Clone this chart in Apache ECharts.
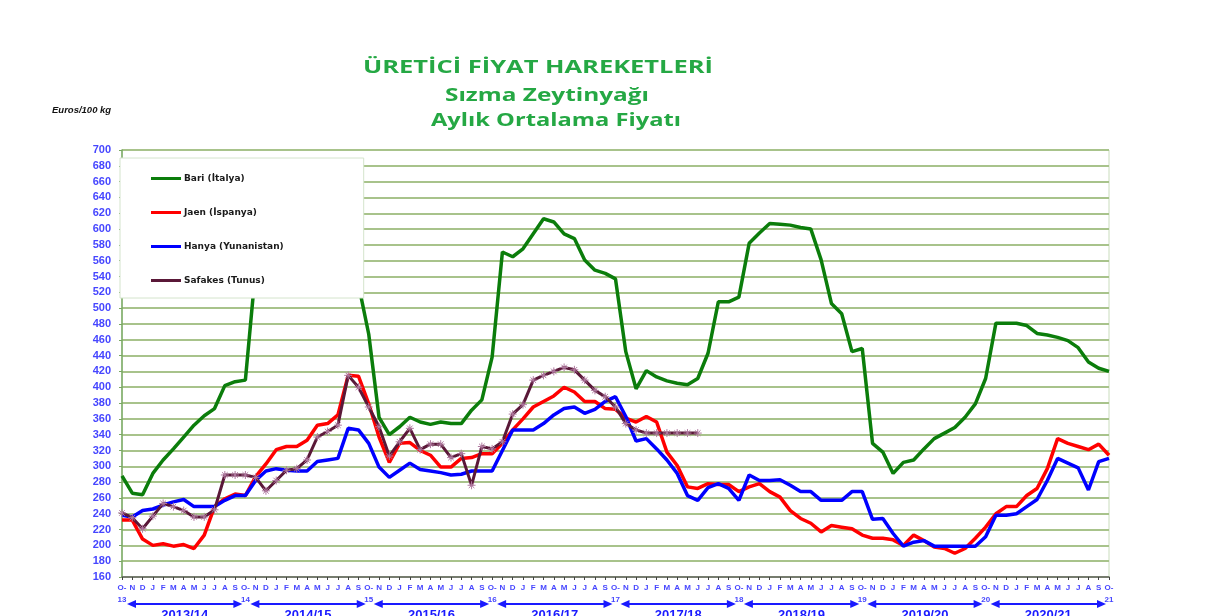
<!DOCTYPE html>
<html>
<head>
<meta charset="utf-8">
<script src="https://cdn.jsdelivr.net/npm/echarts@6/dist/echarts.min.js"></script>
<style>
html,body{margin:0;padding:0;background:#fff;}
#chart{width:1217px;height:616px;}
</style>
</head>
<body>
<div id="chart"></div>
<script>
// ---- Data ----
const monthLetters = ['O','N','D','J','F','M','A','M','J','J','A','S'];
const yearLabels = ['13','14','15','16','17','18','19','20','21'];
const seasonLabels = ['2013/14','2014/15','2015/16','2016/17','2017/18','2018/19','2019/20','2020/21'];
const seriesNames = ['Bari (İtalya)','Jaen (İspanya)','Hanya (Yunanistan)','Safakes (Tunus)'];
const titleLines = ['ÜRETİCİ FİYAT HAREKETLERİ','Sızma Zeytinyağı','Aylık Ortalama Fiyatı'];
const unitLabel = 'Euros/100 kg';

const bari = [288,266,264,291,308,322,337,352,364,373,402,407,409,
  550,600,625,640,650,655,652,640,615,580,530,
  467,362,340,350,362,356,353,356,354,354,371,384,438,
  571,565,575,594,613,609,594,588,561,548,544,537,
  445,398,421,413,408,405,403,411,443,508,508,514,
  582,595,607,606,605,602,600,561,506,493,445,449,
  329,318,291,305,308,322,335,342,349,362,379,411,
  481,481,481,478,468,466,463,459,450,432,424,420];
const jaen = [232,232,208,200,202,199,201,196,213,249,259,265,263,
  287,303,321,325,325,333,352,354,365,415,414,379,
  337,305,329,330,320,314,299,299,310,311,316,316,
  329,346,360,375,382,389,400,394,382,382,373,372,
  361,356,363,356,318,301,274,272,278,277,277,268,
  274,278,268,261,244,234,228,217,225,223,221,213,
  209,209,207,200,213,206,198,196,190,196,209,223,
  240,249,249,263,272,297,335,329,325,321,328,314];
const hanya = [238,236,244,246,251,255,258,249,249,249,257,263,263,
  282,294,297,295,294,294,306,308,310,348,346,329,
  299,286,295,304,296,294,292,289,290,294,294,294,
  320,346,346,346,354,365,373,375,367,372,382,388,
  363,332,335,322,308,291,263,257,273,278,272,257,
  289,282,282,283,276,268,268,257,257,257,268,268,
  233,234,215,199,204,206,199,199,199,199,199,211,
  238,238,240,249,258,282,310,304,298,270,306,310];
const safakes = [241,235,221,237,253,249,244,236,236,245,289,289,289,
  286,269,282,295,297,308,337,344,352,415,400,375,
  350,313,331,348,321,328,328,311,316,276,325,322,
  331,366,378,409,415,420,425,422,409,396,388,375,
  354,346,342,342,342,342,342,342];

// categories built from month letters and year labels
const categories = [];
for (let y = 0; y < yearLabels.length; y++) {
  for (let m = 0; m < monthLetters.length; m++) {
    if (y === yearLabels.length - 1 && m > 0) break;
    categories.push(m === 0 ? 'O-\n' + yearLabels[y] : monthLetters[m]);
  }
}

const chart = echarts.init(document.getElementById('chart'));
const titleGreen = '#25a844';
const axisBlue = '#4646ff';
const maroon = '#5a1838';

const option = {
  animation: false,
  backgroundColor: '#ffffff',
  legend: {
    orient: 'vertical',
    left: 120, top: 158,
    padding: [16, 80, 13, 31],
    itemGap: 25,
    itemWidth: 30, itemHeight: 3,
    icon: 'rect',
    backgroundColor: '#ffffff',
    borderColor: '#d4e4cc', borderWidth: 1,
    textStyle: {color: '#1a1a1a', fontSize: 9, fontWeight: 'bold', fontFamily: 'DejaVu Sans', padding: [0,0,0,-2]},
    data: [seriesNames[0], seriesNames[1], seriesNames[2],
           {name: seriesNames[3], itemStyle: {color: maroon, borderWidth: 0}}]
  },
  grid: {left: 122, right: 108, top: 150, bottom: 39, show: true, borderColor: '#c9dcbc', borderWidth: 1},
  xAxis: {
    type: 'category',
    data: categories,
    boundaryGap: false,
    axisLine: {lineStyle: {color: '#666', width: 1.5}},
    axisTick: {show: true, interval: 0, length: 3, lineStyle: {color: '#444'}},
    axisLabel: {interval: 0, color: axisBlue, fontSize: 8, fontWeight: 'bold', fontFamily: 'Liberation Sans',
                margin: 5, lineHeight: 12},
    splitLine: {show: false}
  },
  yAxis: {
    type: 'value', min: 160, max: 700, interval: 20,
    axisLine: {show: true, lineStyle: {color: '#79a862', width: 1.5}},
    axisTick: {show: true, length: 3, lineStyle: {color: '#79a862'}},
    axisLabel: {color: axisBlue, fontSize: 11, fontWeight: 'bold', fontFamily: 'Liberation Sans', margin: 11},
    splitLine: {lineStyle: {color: '#a8c38b', width: 2}}
  },
  series: [
    {name: seriesNames[0], type: 'line', data: bari, showSymbol: false, symbol: 'none',
     lineStyle: {color: '#0b7d0b', width: 3.5}, itemStyle: {color: '#0b7d0b'}},
    {name: seriesNames[1], type: 'line', data: jaen, showSymbol: false, symbol: 'none',
     lineStyle: {color: '#ff0000', width: 3.5}, itemStyle: {color: '#ff0000'}},
    {name: seriesNames[2], type: 'line', data: hanya, showSymbol: false, symbol: 'none',
     lineStyle: {color: '#0000ff', width: 3.5}, itemStyle: {color: '#0000ff'}},
    {name: seriesNames[3], type: 'line', data: safakes,
     symbol: 'path://M0,5L10,5M5,0L5,10M1.5,1.5L8.5,8.5M8.5,1.5L1.5,8.5', symbolSize: 8,
     lineStyle: {color: maroon, width: 3}, itemStyle: {color: maroon, borderColor: '#b07aa0', borderWidth: 1}}
  ]
};
chart.setOption(option);

// ---- Title lines (stretched horizontally to match the wide original typeface) ----
const measureCtx = document.createElement('canvas').getContext('2d');
const titleFont = 'bold 18px "Open Sans"';
measureCtx.font = titleFont;
const titleSpec = [ // [centerX, centerY, targetWidth]
  [538, 68, 350],
  [547, 96, 204],
  [556, 121, 250]
];
const elements = [];
titleLines.forEach((t, i) => {
  const w = measureCtx.measureText(t).width || 1;
  elements.push({type: 'text', x: titleSpec[i][0], y: titleSpec[i][1], scaleX: titleSpec[i][2] / w,
    style: {text: t, font: titleFont, fill: titleGreen, align: 'center', verticalAlign: 'middle'}});
});
elements.push({type: 'text', x: 52, y: 110,
  style: {text: unitLabel, font: 'italic bold 9.5px "Liberation Sans"', fill: '#111', align: 'left', verticalAlign: 'middle'}});

// ---- Season arrows under the x axis, positioned through the category axis scale ----
const yA = 604;
const blue2 = '#1a1aff';
for (let k = 0; k < seasonLabels.length; k++) {
  const x1 = chart.convertToPixel({xAxisIndex: 0}, k * 12) + 5;
  const x2 = chart.convertToPixel({xAxisIndex: 0}, (k + 1) * 12) - 3;
  elements.push({type: 'line', shape: {x1: x1 + 6, y1: yA, x2: x2 - 6, y2: yA}, style: {stroke: blue2, lineWidth: 2}});
  elements.push({type: 'polygon', shape: {points: [[x1, yA], [x1 + 9, yA - 4], [x1 + 9, yA + 4]]}, style: {fill: blue2}});
  elements.push({type: 'polygon', shape: {points: [[x2, yA], [x2 - 9, yA - 4], [x2 - 9, yA + 4]]}, style: {fill: blue2}});
  elements.push({type: 'text', x: (x1 + x2) / 2, y: 609,
    style: {text: seasonLabels[k], fill: blue2, font: 'bold 13px "Liberation Sans"', align: 'center', verticalAlign: 'top'}});
}
chart.setOption({graphic: elements});
</script>
</body>
</html>
